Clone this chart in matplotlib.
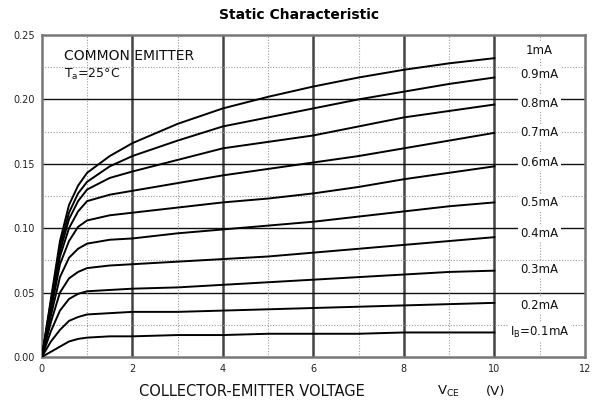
import numpy as np
import matplotlib
matplotlib.use("Agg")
from matplotlib import pyplot as plt

# collector-emitter voltage (V) where the curves were read
vce = [0, 0.2, 0.4, 0.6, 0.8, 1.0, 1.5, 2, 3, 4, 5, 6, 7, 8, 9, 10]

# collector current (A) for each base current
ic_1mA  = [0, 0.045, 0.090, 0.118, 0.133, 0.143, 0.156, 0.166, 0.181, 0.193, 0.202, 0.210, 0.217, 0.223, 0.228, 0.232]
ic_09mA = [0, 0.043, 0.086, 0.112, 0.127, 0.136, 0.148, 0.156, 0.168, 0.179, 0.186, 0.193, 0.200, 0.206, 0.212, 0.217]
ic_08mA = [0, 0.041, 0.082, 0.107, 0.121, 0.130, 0.139, 0.144, 0.153, 0.162, 0.167, 0.172, 0.179, 0.186, 0.191, 0.196]
ic_07mA = [0, 0.039, 0.078, 0.100, 0.113, 0.121, 0.126, 0.129, 0.135, 0.141, 0.146, 0.151, 0.156, 0.162, 0.168, 0.174]
ic_06mA = [0, 0.036, 0.072, 0.090, 0.101, 0.106, 0.110, 0.112, 0.116, 0.120, 0.123, 0.127, 0.132, 0.138, 0.143, 0.148]
ic_05mA = [0, 0.032, 0.062, 0.077, 0.084, 0.088, 0.091, 0.092, 0.096, 0.099, 0.102, 0.105, 0.109, 0.113, 0.117, 0.120]
ic_04mA = [0, 0.027, 0.050, 0.061, 0.066, 0.069, 0.071, 0.072, 0.074, 0.076, 0.078, 0.081, 0.084, 0.087, 0.090, 0.093]
ic_03mA = [0, 0.020, 0.036, 0.045, 0.049, 0.051, 0.052, 0.053, 0.054, 0.056, 0.058, 0.060, 0.062, 0.064, 0.066, 0.067]
ic_02mA = [0, 0.012, 0.021, 0.028, 0.031, 0.033, 0.034, 0.035, 0.035, 0.036, 0.037, 0.038, 0.039, 0.040, 0.041, 0.042]
ic_01mA = [0, 0.004, 0.008, 0.012, 0.014, 0.015, 0.016, 0.016, 0.017, 0.017, 0.018, 0.018, 0.018, 0.019, 0.019, 0.019]

curves = [ic_1mA, ic_09mA, ic_08mA, ic_07mA, ic_06mA, ic_05mA, ic_04mA, ic_03mA, ic_02mA, ic_01mA]
labels = ["1mA", "0.9mA", "0.8mA", "0.7mA", "0.6mA", "0.5mA", "0.4mA", "0.3mA", "0.2mA", r"I$_{\mathrm{B}}$=0.1mA"]
label_y = [0.238, 0.219, 0.197, 0.174, 0.151, 0.120, 0.096, 0.068, 0.040, 0.019]

fig = plt.figure(figsize=(5.98, 4.07), dpi=100)
ax = fig.add_axes([0.070, 0.123, 0.908, 0.791])

ax.set_xlim(0, 12)
ax.set_ylim(0, 0.25)
ax.set_xticks([0, 2, 4, 6, 8, 10, 12])
ax.set_yticks([0, 0.05, 0.10, 0.15, 0.20, 0.25])
ax.set_yticklabels(["0.00", "0.05", "0.10", "0.15", "0.20", "0.25"])
ax.tick_params(length=0, labelsize=7, pad=5, colors="#222222")

# grid: solid majors, dotted minors
for x in [2, 4, 6, 8, 10]:
    ax.axvline(x, color="#444444", lw=1.8, zorder=1)
for y in [0.05, 0.10, 0.15, 0.20]:
    ax.axhline(y, color="#111111", lw=1.0, zorder=1)
for x in [1, 3, 5, 7, 9, 11]:
    ax.axvline(x, color="#999999", lw=0.8, ls=(0, (1, 1.5)), zorder=1)
for y in [0.025, 0.075, 0.125, 0.175, 0.225]:
    ax.axhline(y, color="#999999", lw=0.8, ls=(0, (1, 1.5)), zorder=1)

for s in ax.spines.values():
    s.set_color("#777777")
    s.set_linewidth(1.8)

for ic in curves:
    ax.plot(vce, ic, color="black", lw=1.4, zorder=3)

for lab, y in zip(labels, label_y):
    ax.text(11.0, y, lab, fontsize=8.5, ha="center", va="center", color="#111111",
            bbox=dict(facecolor="white", edgecolor="none", pad=1.5), zorder=4)

ax.text(0.5, 0.234, "COMMON EMITTER", fontsize=10, color="#111111", va="center")
ax.text(0.5, 0.219, r"T$_{\mathrm{a}}$=25°C", fontsize=9, color="#111111", va="center")

fig.text(0.5, 0.963, "Static Characteristic", ha="center", va="center",
         fontsize=10, fontweight="heavy")
fig.text(0.232, 0.037, "COLLECTOR-EMITTER VOLTAGE", fontsize=10.5, va="center", color="#111111")
fig.text(0.730, 0.037, r"V$_{\mathrm{CE}}$", fontsize=9.5, va="center", color="#111111")
fig.text(0.812, 0.037, "(V)", fontsize=9.5, va="center", color="#111111")

fig.savefig("out.png", dpi=100)
